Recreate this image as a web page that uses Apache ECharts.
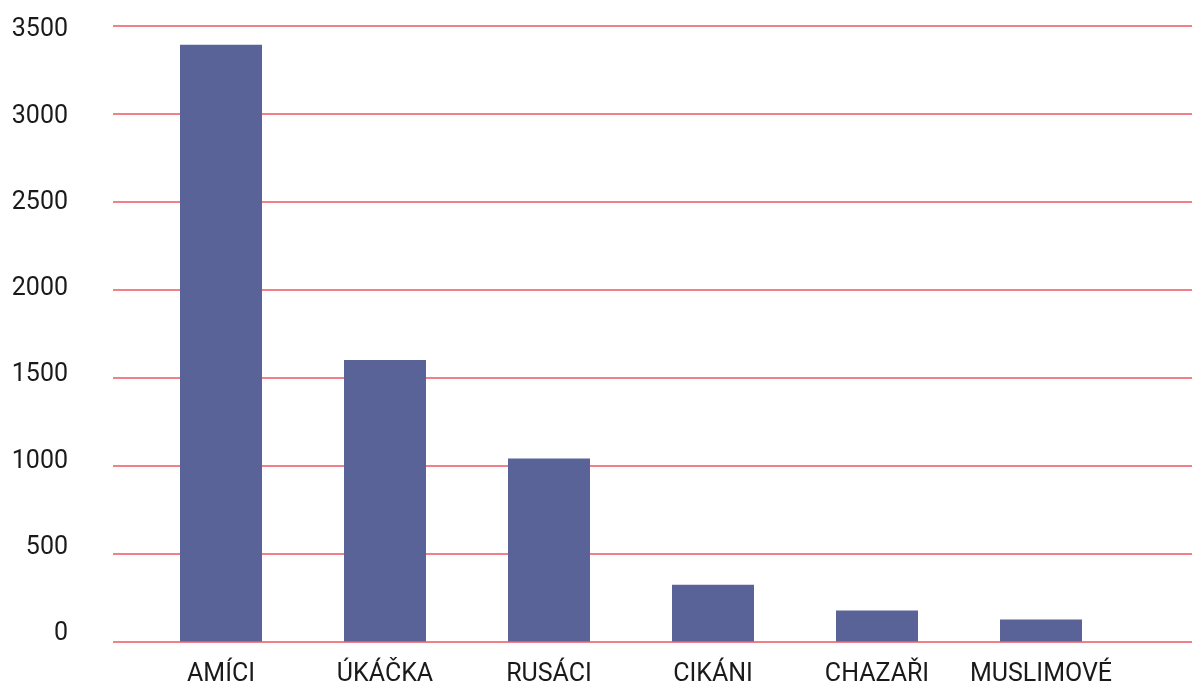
<!DOCTYPE html>
<html>
<head>
<meta charset="utf-8">
<script src="https://cdn.jsdelivr.net/npm/echarts@6/dist/echarts.min.js"></script>
<style>
  html, body { margin: 0; padding: 0; background: #fff; }
  #chart { width: 1192px; height: 682px; }
</style>
</head>
<body>
<div id="chart"></div>
<script>
const categories = ["AMÍCI", "ÚKÁČKA", "RUSÁCI", "CIKÁNI", "CHAZAŘI", "MUSLIMOVÉ"];
const values = [3390, 1600, 1040, 322, 176, 125];
const yMin = 0, yMax = 3500, yStep = 500;

const chart = echarts.init(document.getElementById("chart"));
const font = "Roboto";

const option = {
  animation: false,
  grid: [
    // gridlines across the whole width
    { left: 113, right: 0, top: 25.5, bottom: 40.5, outerBoundsMode: "none" },
    // bars
    { left: 139, width: 984, top: 25.5, bottom: 40.5, outerBoundsMode: "none" },
    // y labels
    { left: 68, width: 1, top: 30, bottom: 48, outerBoundsMode: "none" }
  ],
  xAxis: [
    { gridIndex: 0, type: "value", show: false },
    {
      gridIndex: 1, type: "category", data: categories,
      axisLine: { show: false }, axisTick: { show: false },
      axisLabel: { interval: 0, color: "#1a1a1a", fontFamily: font, fontSize: 25, margin: 21 }
    },
    { gridIndex: 2, type: "value", show: false }
  ],
  yAxis: [
    {
      gridIndex: 0, type: "value", min: yMin, max: yMax, interval: yStep,
      axisLine: { show: false }, axisTick: { show: false }, axisLabel: { show: false },
      splitLine: { show: true, lineStyle: { color: "#ef5560", width: 1.6 } }
    },
    {
      gridIndex: 1, type: "value", min: yMin, max: yMax, interval: yStep, show: false,
      splitLine: { show: false }
    },
    {
      gridIndex: 2, type: "value", min: yMin, max: yMax, interval: yStep,
      axisLine: { show: false }, axisTick: { show: false }, splitLine: { show: false },
      axisLabel: {
        color: "#1a1a1a", fontFamily: font, fontSize: 25, margin: 0, align: "right",
        formatter: v => String(v)
      }
    }
  ],
  series: [
    {
      type: "bar",
      xAxisIndex: 1,
      yAxisIndex: 1,
      data: values,
      barWidth: "50%",
      itemStyle: { color: "#596398" }
    }
  ]
};

chart.setOption(option);
</script>
</body>
</html>
